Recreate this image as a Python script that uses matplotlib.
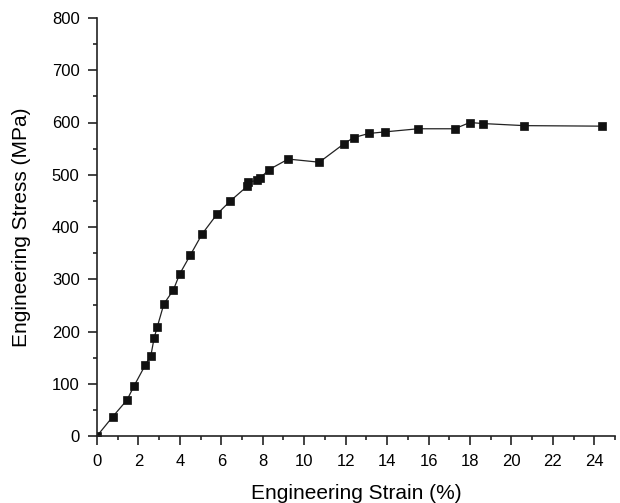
import matplotlib

matplotlib.use("Agg")
import matplotlib.pyplot as plt
from matplotlib.ticker import MultipleLocator

plt.rcParams["font.family"] = ["Liberation Sans", "DejaVu Sans"]

# 工程应变 (%) 与工程应力 (MPa)
strain = [0.0, 0.76, 1.45, 1.79, 2.32, 2.60, 2.76, 2.91, 3.23, 3.68, 3.99, 4.50,
          5.08, 5.80, 6.44, 7.25, 7.28, 7.70, 7.85, 8.31, 9.23, 10.73, 11.91,
          12.38, 13.12, 13.88, 15.50, 17.26, 18.00, 18.62, 20.63, 24.39]
stress = [0, 37, 69, 96, 135, 154, 188, 209, 253, 279, 310, 346,
          387, 425, 450, 478, 486, 489, 493, 510, 530, 524, 559,
          571, 579, 582, 588, 588, 600, 598, 594, 593]

fig = plt.figure(figsize=(6.2, 5.03), dpi=100)
ax = fig.add_axes([97 / 620, 1 - 436 / 503, (615 - 97) / 620, (436 - 18) / 503])

ax.plot(strain, stress, color="#222222", lw=0.9, marker="s", ms=5.8,
        mfc="#111111", mec="#111111", mew=0.5)

ax.set_xlim(0, 25)
ax.set_ylim(0, 800)
ax.xaxis.set_major_locator(MultipleLocator(2))
ax.xaxis.set_minor_locator(MultipleLocator(1))
ax.yaxis.set_major_locator(MultipleLocator(100))
ax.yaxis.set_minor_locator(MultipleLocator(50))

for side in ("top", "right"):
    ax.spines[side].set_visible(False)
for side in ("left", "bottom"):
    ax.spines[side].set_linewidth(1.2)
    ax.spines[side].set_color("#222222")

ax.tick_params(which="major", direction="out", length=6.5, width=1.2,
               labelsize=12, color="#222222")
ax.tick_params(which="minor", direction="out", length=3, width=1.2,
               color="#222222")
ax.tick_params(axis="x", which="major", pad=6.5)
ax.tick_params(axis="y", which="major", pad=6)

ax.set_xlabel("Engineering Strain (%)", fontsize=15, labelpad=10.5)
ax.set_ylabel("Engineering Stress (MPa)", fontsize=15, labelpad=15)

fig.savefig("out.png", dpi=100)
plt.close(fig)
